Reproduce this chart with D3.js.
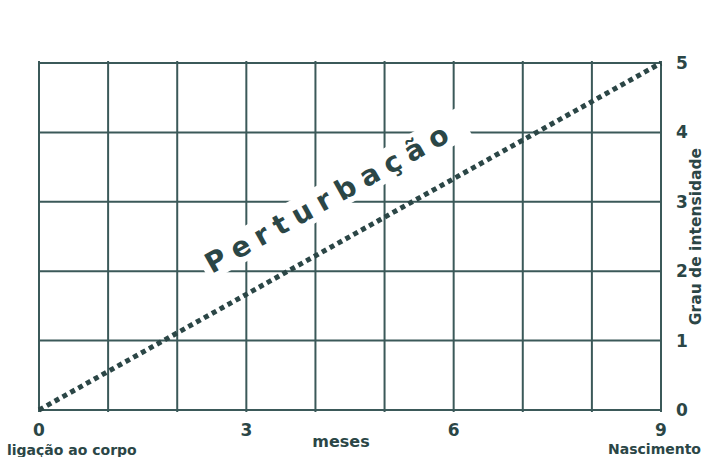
<!DOCTYPE html>
<html lang="pt">
<head>
<meta charset="UTF-8">
<title>Perturbação</title>
<script src="https://cdn.jsdelivr.net/npm/d3@7"></script>
<style>
  body { margin: 0; background: #fff; }
  text { font-family: "DejaVu Sans", sans-serif; font-weight: bold; fill: #2b4646; }
</style>
</head>
<body>
<script>
// data
const months = [0, 1, 2, 3, 4, 5, 6, 7, 8, 9]
const monthLabels = [0, 3, 6, 9]
const intensity = [0, 1, 2, 3, 4, 5]
const trend = [{m: 0, v: 0}, {m: 9, v: 5}]
const trendLabel = "Perturbação"

const w = 705, h = 457
const svg = d3.select("body").append("svg").attr("width", w).attr("height", h)

const x = d3.scaleLinear().domain([0, 9]).range([39, 661])
const y = d3.scaleLinear().domain([0, 5]).range([410, 63])
const grid = "#3b5959"

// grid
svg.append("g").selectAll("line").data(months).enter().append("line")
    .attr("x1", d => x(d)).attr("x2", d => x(d))
    .attr("y1", y(5) - 2).attr("y2", y(0) + 2)
    .attr("stroke", grid).attr("stroke-width", 2)

svg.append("g").selectAll("line").data(intensity).enter().append("line")
    .attr("x1", x(0)).attr("x2", x(9))
    .attr("y1", d => y(d)).attr("y2", d => y(d))
    .attr("stroke", grid).attr("stroke-width", 2)

// axes labels
svg.append("g").selectAll("text").data(monthLabels).enter().append("text")
    .attr("x", d => x(d)).attr("y", 436)
    .attr("text-anchor", "middle").attr("font-size", 17)
    .text(d => d)

svg.append("g").selectAll("text").data(intensity).enter().append("text")
    .attr("x", 676).attr("y", d => y(d) + 6)
    .attr("text-anchor", "start").attr("font-size", 17)
    .text(d => d)

svg.append("text").attr("x", 341).attr("y", 447)
    .attr("text-anchor", "middle").attr("font-size", 16).text("meses")
svg.append("text").attr("x", 7).attr("y", 455)
    .attr("font-size", 14).text("ligação ao corpo")
svg.append("text").attr("x", 701).attr("y", 454)
    .attr("text-anchor", "end").attr("font-size", 14).text("Nascimento")
svg.append("text")
    .attr("transform", `translate(701, ${(y(0) + y(5)) / 2}) rotate(-90)`)
    .attr("text-anchor", "middle").attr("font-size", 15.5).text("Grau de intensidade")

// dotted trend
const line = d3.line().x(d => x(d.m)).y(d => y(d.v))
svg.append("path").datum(trend).attr("d", line)
    .attr("fill", "none").attr("stroke", "#2b4646")
    .attr("stroke-width", 5).attr("stroke-dasharray", "5,4")

// label along the line
const ang = Math.atan2(y(5) - y(0), x(9) - x(0)) * 180 / Math.PI
const lx = x(2.5), ly = y(1.96)
svg.append("rect")
    .attr("transform", `translate(${lx}, ${ly}) rotate(${ang})`)
    .attr("x", -5).attr("y", -26).attr("width", 300).attr("height", 32)
    .attr("fill", "#fff")
svg.append("text")
    .attr("transform", `translate(${lx}, ${ly}) rotate(${ang})`)
    .attr("font-size", 28).attr("letter-spacing", 8)
    .text(trendLabel)
</script>
</body>
</html>
